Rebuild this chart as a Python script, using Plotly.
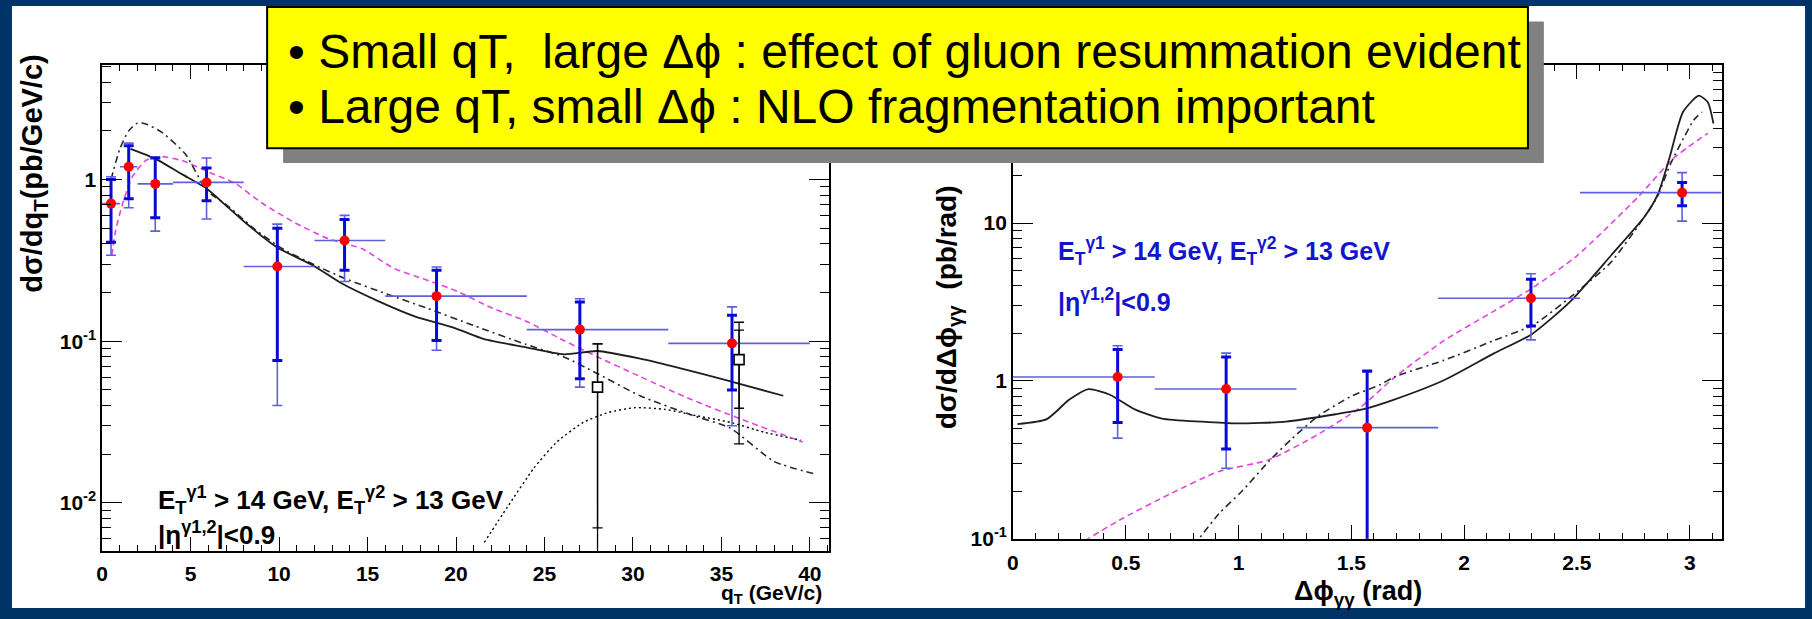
import math
import plotly.graph_objects as go

W, H = 1812, 619

# ---------------- q_T distribution (left panel) ----------------
qt_x = [0.5, 1.5, 3.0, 5.9, 9.9, 13.7, 18.9, 27.0, 35.6]
qt_lo = [0, 1, 2, 4, 8, 12, 16, 24, 32]
qt_hi = [1, 2, 4, 8, 12, 16, 24, 32, 40]
qt_y = [0.71, 1.20, 0.94, 0.96, 0.29, 0.42, 0.19, 0.118, 0.097]
qt_stat_hi = [1.00, 1.62, 1.36, 1.18, 0.50, 0.567, 0.275, 0.175, 0.145]
qt_stat_lo = [0.41, 0.76, 0.58, 0.74, 0.076, 0.275, 0.101, 0.0585, 0.050]
qt_tot_hi = [1.04, 1.68, 1.38, 1.36, 0.53, 0.60, 0.288, 0.183, 0.163]
qt_tot_lo = [0.34, 0.67, 0.48, 0.57, 0.040, 0.234, 0.088, 0.052, 0.030]

# open squares
sq_x = [28.0, 36.0]
sq_y = [0.052, 0.077]
sq_stat_hi = [0.0964, 0.117]
sq_stat_lo = [0.007, 0.0385]
sq_tot_hi = [0.0964, 0.131]
sq_tot_lo = [0.003, 0.0232]

# theory curves, q_T
qt_solid_x = [1.6, 2.5, 3.2, 4.5, 5.9, 7.0, 8.1, 9.9, 11.9, 13.5, 15.6, 17.7,
              19.9, 21.6, 23.9, 26.1, 28.0, 30.4, 32.7, 35.1, 38.5]
qt_solid_y = [1.55, 1.42, 1.31, 1.08, 0.88, 0.69, 0.54, 0.38, 0.295, 0.229, 0.177,
              0.142, 0.121, 0.103, 0.092, 0.083, 0.087, 0.078, 0.068, 0.058, 0.046]
qt_dashdot_x = [0.5, 1.0, 1.5, 2.0, 2.5, 3.4, 4.7, 5.9, 7.15, 8.65, 10.2, 11.9,
                13.7, 16.2, 18.3, 21.0, 23.9, 26.1, 28.0, 30.4, 33.3, 35.5, 38.0, 40.4]
qt_dashdot_y = [1.0, 1.55, 2.0, 2.24, 2.2, 1.95, 1.44, 0.86, 0.68, 0.49, 0.373, 0.30,
                0.245, 0.194, 0.161, 0.125, 0.096, 0.080, 0.063, 0.046, 0.035, 0.029,
                0.018, 0.015]
qt_magenta_x = [0.55, 0.77, 1.14, 1.7, 2.46, 3.2, 4.52, 6.21, 7.53, 9.03, 10.9, 12.8,
                14.7, 16.5, 18.3, 20.1, 22.0, 23.9, 26.1, 28.0, 30.4, 33.3, 36.1, 39.6]
qt_magenta_y = [0.34, 0.49, 0.70, 1.04, 1.31, 1.39, 1.31, 1.09, 0.946, 0.716, 0.54,
                0.43, 0.373, 0.282, 0.24, 0.203, 0.161, 0.134, 0.101, 0.080, 0.0605,
                0.0436, 0.033, 0.0238]
qt_dotted_x = [21.6, 22.9, 24.4, 25.7, 27.2, 28.6, 30.1, 31.8, 33.6, 35.5, 37.4, 39.5]
qt_dotted_y = [0.0057, 0.0094, 0.0164, 0.0238, 0.0315, 0.0362, 0.0388, 0.0379,
               0.0346, 0.0315, 0.0274, 0.0244]

# ---------------- delta-phi distribution (right panel) ----------------
dphi_x = [0.464, 0.945, 1.570, 2.296, 2.966]
dphi_edges = [k * math.pi / 5 for k in range(6)]
dphi_y = [1.06, 0.89, 0.506, 3.34, 15.6]
dphi_stat_hi = [1.58, 1.42, 1.15, 4.41, 18.1]
dphi_stat_lo = [0.546, 0.37, 0.05, 2.23, 12.9]
dphi_tot_hi = [1.67, 1.50, 1.17, 4.78, 20.9]
dphi_tot_lo = [0.434, 0.28, 0.04, 1.82, 10.3]

dphi_solid_x = [0.02, 0.15, 0.25, 0.335, 0.43, 0.54, 0.66, 0.84, 0.99, 1.21, 1.43,
                1.55, 1.69, 1.91, 2.13, 2.30, 2.47, 2.65, 2.80, 2.86, 2.91, 2.97,
                3.04, 3.08, 3.105]
dphi_solid_y = [0.533, 0.573, 0.762, 0.888, 0.818, 0.66, 0.578, 0.552, 0.538, 0.552,
                0.615, 0.66, 0.762, 1.01, 1.49, 1.98, 3.18, 6.21, 11.0, 15.4, 25.9,
                50.6, 64.2, 58.4, 42.8]
dphi_dashdot_x = [0.80, 0.913, 1.015, 1.133, 1.236, 1.354, 1.50, 1.63, 1.69, 1.91,
                  2.13, 2.31, 2.50, 2.65, 2.78, 2.855, 2.914, 2.973, 3.017, 3.054]
dphi_dashdot_y = [0.09, 0.144, 0.20, 0.308, 0.43, 0.60, 0.80, 0.95, 1.06, 1.35, 1.80,
                  2.28, 3.67, 5.64, 10.0, 14.6, 23.6, 34.6, 44.9, 50.6]
dphi_magenta_x = [0.28, 0.471, 0.692, 0.913, 1.133, 1.354, 1.54, 1.69, 1.91, 2.13,
                  2.30, 2.50, 2.77, 2.93, 3.08]
dphi_magenta_y = [0.09, 0.131, 0.191, 0.267, 0.316, 0.46, 0.68, 1.05, 1.80, 2.76,
                  3.86, 6.21, 14.6, 25.9, 37.1]

# ---------------- styling ----------------
NAVY = "#003366"
BLUE = "rgb(10,10,215)"
LBLUE = "rgb(95,95,225)"
RED = "rgb(250,0,0)"
MAGENTA = "rgb(225,70,225)"
FONT = "Liberation Sans, Arial, Helvetica, sans-serif"

fig = go.Figure()


def add_data(xs, ys, lo_edges, hi_edges, st_hi, st_lo, tt_hi, tt_lo, xa, ya):
    # bin widths and total uncertainty
    fig.add_trace(go.Scatter(
        x=xs, y=ys, mode="markers", xaxis=xa, yaxis=ya,
        marker=dict(size=1, color="rgba(0,0,0,0)"),
        error_x=dict(type="data", symmetric=False,
                     array=[h - x for h, x in zip(hi_edges, xs)],
                     arrayminus=[x - l for l, x in zip(lo_edges, xs)],
                     color=LBLUE, thickness=1.6, width=0),
        error_y=dict(type="data", symmetric=False,
                     array=[h - y for h, y in zip(tt_hi, ys)],
                     arrayminus=[y - l for l, y in zip(tt_lo, ys)],
                     color=LBLUE, thickness=1.6, width=5),
        showlegend=False, hoverinfo="skip"))
    # statistical uncertainty and points
    fig.add_trace(go.Scatter(
        x=xs, y=ys, mode="markers", xaxis=xa, yaxis=ya,
        marker=dict(size=10, color=RED, symbol="circle"),
        error_y=dict(type="data", symmetric=False,
                     array=[h - y for h, y in zip(st_hi, ys)],
                     arrayminus=[y - l for l, y in zip(st_lo, ys)],
                     color=BLUE, thickness=3, width=5),
        showlegend=False))


def add_curve(xs, ys, color, dash, xa, ya, width=1.6):
    fig.add_trace(go.Scatter(
        x=xs, y=ys, mode="lines", xaxis=xa, yaxis=ya,
        line=dict(color=color, dash=dash, width=width, shape="spline", smoothing=0.6),
        showlegend=False, hoverinfo="skip"))


# left panel curves
add_curve(qt_dotted_x, qt_dotted_y, "black", "2px,3px", "x", "y", 1.4)
add_curve(qt_magenta_x, qt_magenta_y, MAGENTA, "6px,4px", "x", "y")
add_curve(qt_dashdot_x, qt_dashdot_y, "rgb(40,40,40)", "7px,4px,2px,4px", "x", "y")
add_curve(qt_solid_x, qt_solid_y, "rgb(30,30,30)", "solid", "x", "y", 1.8)

# open squares with black error bars
fig.add_trace(go.Scatter(
    x=sq_x, y=sq_y, mode="markers", xaxis="x", yaxis="y",
    marker=dict(size=1, color="rgba(0,0,0,0)"),
    error_y=dict(type="data", symmetric=False,
                 array=[h - y for h, y in zip(sq_tot_hi, sq_y)],
                 arrayminus=[y - l for l, y in zip(sq_tot_lo, sq_y)],
                 color="black", thickness=1.3, width=5),
    showlegend=False, hoverinfo="skip"))

add_data(qt_x, qt_y, qt_lo, qt_hi, qt_stat_hi, qt_stat_lo, qt_tot_hi, qt_tot_lo, "x", "y")

fig.add_trace(go.Scatter(
    x=sq_x, y=sq_y, mode="markers", xaxis="x", yaxis="y",
    marker=dict(size=10, color="white", symbol="square",
                line=dict(color="black", width=1.6)),
    error_y=dict(type="data", symmetric=False,
                 array=[h - y for h, y in zip(sq_stat_hi, sq_y)],
                 arrayminus=[y - l for l, y in zip(sq_stat_lo, sq_y)],
                 color="black", thickness=1.3, width=5),
    showlegend=False))

# right panel curves
add_curve(dphi_magenta_x, dphi_magenta_y, MAGENTA, "6px,4px", "x2", "y2")
add_curve(dphi_dashdot_x, dphi_dashdot_y, "rgb(40,40,40)", "7px,4px,2px,4px", "x2", "y2")
add_curve(dphi_solid_x, dphi_solid_y, "rgb(30,30,30)", "solid", "x2", "y2", 1.8)

add_data(dphi_x, dphi_y, dphi_edges[:-1], dphi_edges[1:], dphi_stat_hi, dphi_stat_lo,
         dphi_tot_hi, dphi_tot_lo, "x2", "y2")


# ---------------- axes ----------------
def log_minor(lo_exp, hi_exp):
    return [k * 10.0 ** e for e in range(lo_exp, hi_exp + 1) for k in range(2, 10)]


tick_font = dict(family=FONT, size=21, color="black")
common = dict(showgrid=False, zeroline=False, showline=True, linecolor="black",
              linewidth=1.6, mirror="allticks", ticks="inside", tickcolor="black",
              tickwidth=1.3, tickfont=tick_font)

qt_xticks = [0, 5, 10, 15, 20, 25, 30, 35, 40]
qt_yticks = [0.01, 0.1, 1]
qt_yticktext = ["<b>10<sup>-2</sup></b>", "<b>10<sup>-1</sup></b>", "<b>1</b>"]
qt_xticktext = ["<b>%d</b>" % v for v in qt_xticks]
dphi_xticks = [0, 0.5, 1, 1.5, 2, 2.5, 3]
dphi_xticktext = ["<b>%g</b>" % v for v in dphi_xticks]
dphi_yticks = [0.1, 1, 10]
dphi_yticktext = ["<b>10<sup>-1</sup></b>", "<b>1</b>", "<b>10</b>"]

fig.update_layout(
    xaxis=dict(domain=[96.5 / W, 825.5 / W], range=[0, 41.07], anchor="y",
               tickmode="array", tickvals=qt_xticks, ticktext=qt_xticktext,
               ticklen=14, ticklabelstandoff=3,
               minor=dict(tickmode="array", tickvals=list(range(0, 42)),
                          ticks="inside", ticklen=6, tickcolor="black", tickwidth=1.2),
               **common),
    yaxis=dict(domain=[1 - 560.6 / H, 1 - 66.5 / H], type="log",
               range=[-2.2953, 0.7066], anchor="x",
               tickmode="array", tickvals=qt_yticks, ticktext=qt_yticktext, ticklen=20,
               minor=dict(tickmode="array", tickvals=log_minor(-3, 0),
                          ticks="inside", ticklen=9, tickcolor="black", tickwidth=1.2),
               **common),
    xaxis2=dict(domain=[1010.3 / W, 1721.4 / W], range=[0, math.pi], anchor="y2",
                tickmode="array", tickvals=dphi_xticks, ticktext=dphi_xticktext,
                ticklen=14, ticklabelstandoff=4,
                minor=dict(tickmode="array",
                           tickvals=[round(0.1 * k, 1) for k in range(0, 32)],
                           ticks="inside", ticklen=6, tickcolor="black", tickwidth=1.2),
                **common),
    yaxis2=dict(domain=[1 - 548.5 / H, 1 - 66.5 / H], type="log", range=[-1, 2],
                anchor="x2", tickmode="array", tickvals=dphi_yticks,
                ticktext=dphi_yticktext, ticklen=20,
                minor=dict(tickmode="array", tickvals=log_minor(-1, 1),
                           ticks="inside", ticklen=9, tickcolor="black", tickwidth=1.2),
                **common),
)

# ---------------- slide background, callout box ----------------
shapes = [
    dict(type="rect", xref="paper", yref="paper", layer="below",
         x0=6 / W, x1=1805 / W, y0=0, y1=1 - 6 / H,
         fillcolor="white", line=dict(width=0)),
    dict(type="rect", xref="paper", yref="paper", layer="above",
         x0=278 / W, x1=1543 / W, y0=1 - 166 / H, y1=1 - 22 / H,
         fillcolor="rgb(128,128,128)", line=dict(width=0)),
    dict(type="rect", xref="paper", yref="paper", layer="above",
         x0=262 / W, x1=1527 / W, y0=1 - 151 / H, y1=1 - 7 / H,
         fillcolor="rgb(255,255,0)", line=dict(color="black", width=2)),
]

bold = dict(family=FONT, size=26, color="black")
blue_bold = dict(family=FONT, size=25, color="rgb(20,20,205)")
NB = "\u00a0"

annotations = [
    dict(text="\u2022 Small qT," + NB + NB + "large \u0394\u03d5 : effect of gluon resummation evident",
         x=281 / W, y=1 - 52 / H, xanchor="left", yanchor="middle",
         font=dict(family=FONT, size=48, color="black")),
    dict(text="\u2022 Large qT, small \u0394\u03d5 : NLO fragmentation important",
         x=281 / W, y=1 - 108 / H, xanchor="left", yanchor="middle",
         font=dict(family=FONT, size=48, color="black")),
    # axis titles
    dict(text="<b>d\u03c3/dq<sub>T</sub>(pb/GeV/c)</b>", textangle=-90,
         x=28 / W, y=1 - 177 / H, xanchor="center", yanchor="middle",
         font=dict(family=FONT, size=29, color="black")),
    dict(text="<b>d\u03c3/d\u0394\u03d5<sub>\u03b3\u03b3</sub>" + NB + NB + "(pb/rad)</b>",
         textangle=-90, x=946 / W, y=1 - 313 / H, xanchor="center", yanchor="middle",
         font=dict(family=FONT, size=28, color="black")),
    dict(text="<b>q<sub>T</sub> (GeV/c)</b>", x=820 / W, y=1 - 591 / H,
         xanchor="right", yanchor="top", borderpad=0,
         font=dict(family=FONT, size=21, color="black")),
    dict(text="<b>\u0394\u03d5<sub>\u03b3\u03b3</sub> (rad)</b>", x=1356 / W, y=1 - 604 / H,
         xanchor="center", yanchor="middle", font=dict(family=FONT, size=27, color="black")),
    # selection cuts
    dict(text="<b>E<sub>T</sub><sup>\u03b31</sup> > 14 GeV, E<sub>T</sub><sup>\u03b32</sup> > 13 GeV</b>",
         x=150 / W, y=1 - 509 / H, xanchor="left", yanchor="middle", font=bold),
    dict(text="<b>|\u03b7<sup>\u03b31,2</sup>|&lt;0.9</b>",
         x=150 / W, y=1 - 543 / H, xanchor="left", yanchor="middle", font=bold),
    dict(text="<b>E<sub>T</sub><sup>\u03b31</sup> > 14 GeV, E<sub>T</sub><sup>\u03b32</sup> > 13 GeV</b>",
         x=1053 / W, y=1 - 256 / H, xanchor="left", yanchor="middle", font=blue_bold),
    dict(text="<b>|\u03b7<sup>\u03b31,2</sup>|&lt;0.9</b>",
         x=1053 / W, y=1 - 305 / H, xanchor="left", yanchor="middle", font=blue_bold),
]
for a in annotations:
    a.setdefault("xref", "paper")
    a.setdefault("yref", "paper")
    a.setdefault("showarrow", False)

fig.update_layout(
    width=W, height=H, margin=dict(l=0, r=0, t=0, b=0),
    paper_bgcolor=NAVY, plot_bgcolor="rgba(0,0,0,0)",
    shapes=shapes, annotations=annotations, showlegend=False,
)

fig.write_html("out.html")
